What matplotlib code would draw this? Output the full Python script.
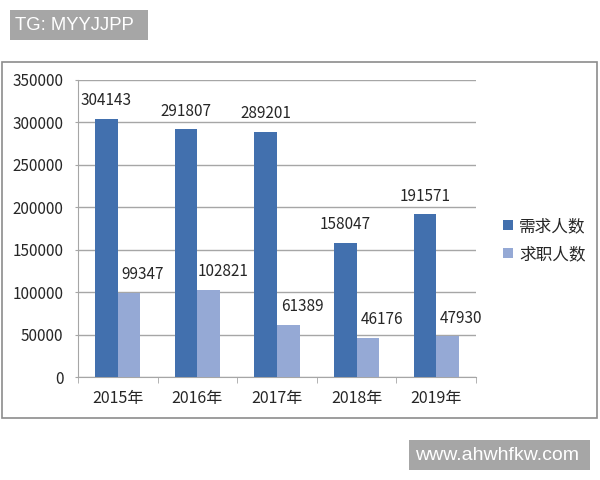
import matplotlib
matplotlib.use("Agg")
import matplotlib.pyplot as plt
from matplotlib.patches import Rectangle
import numpy as np

plt.rcParams['font.family'] = ['Noto Sans CJK SC', 'DejaVu Sans']

categories = ["2015年", "2016年", "2017年", "2018年", "2019年"]
demand = [304143, 291807, 289201, 158047, 191571]
seekers = [99347, 102821, 61389, 46176, 47930]
series_names = ["需求人数", "求职人数"]
yticks = [0, 50000, 100000, 150000, 200000, 250000, 300000, 350000]

c_dark = "#4270AE"
c_light = "#95A9D5"
grid_c = "#A6A6A6"
text_c = "#262626"

W, H = 600, 480
fig = plt.figure(figsize=(6, 4.8), dpi=100)
fig.patch.set_facecolor("white")


def px_rect(x0, y0, x1, y1, **kw):
    return Rectangle((x0 / W, 1 - y1 / H), (x1 - x0) / W, (y1 - y0) / H,
                     transform=fig.transFigure, **kw)


# outer chart frame
fig.patches.append(px_rect(2, 62, 597, 418, fill=False,
                           edgecolor="#8C8C8C", linewidth=1.2))

ax = fig.add_axes([78 / W, 1 - 377 / H, 398 / W, 297 / H])
x = np.arange(len(categories))
w = 0.285
ax.bar(x - w / 2, demand, w, color=c_dark, label=series_names[0], zorder=3)
ax.bar(x + w / 2, seekers, w, color=c_light, label=series_names[1], zorder=3)

for xi, v in zip(x, demand):
    ax.annotate(str(v), (xi - w / 2, v), xytext=(0, 7), textcoords="offset points",
                ha="center", va="bottom", fontsize=11, color=text_c)
for xi, v in zip(x, seekers):
    ax.annotate(str(v), (xi + w / 2, v), xytext=(10, 7), textcoords="offset points",
                ha="center", va="bottom", fontsize=11, color=text_c)

ax.set_xlim(-0.5, len(categories) - 0.5)
ax.set_ylim(0, 350000)
ax.set_yticks(yticks)
ax.set_yticklabels([str(t) for t in yticks], fontsize=11, color=text_c)
ax.yaxis.grid(True, color=grid_c, linewidth=1.0, zorder=0)
ax.set_axisbelow(True)
ax.tick_params(axis="y", length=2.5, color=grid_c, pad=8)

ax.set_xticks(x)
ax.set_xticklabels(categories, fontsize=11.5, color=text_c)
ax.tick_params(axis="x", length=0, pad=9)
ax.set_xticks(np.arange(-0.5, len(categories), 1.0), minor=True)
ax.tick_params(axis="x", which="minor", length=4, color=grid_c)

for s in ["top", "right"]:
    ax.spines[s].set_visible(False)
for s in ["left", "bottom"]:
    ax.spines[s].set_color(grid_c)

fig.legend(loc="upper left", bbox_to_anchor=(488 / W, 1 - 203 / H),
           frameon=False, fontsize=12, handlelength=0.6, handleheight=0.6,
           handletextpad=0.35, labelspacing=0.65, labelcolor=text_c)

# watermark boxes
fig.patches.append(px_rect(10, 10, 148, 40, facecolor="#A6A6A6", edgecolor="none"))
fig.text(15 / W, 1 - 25.5 / H, "TG: MYYJJPP", fontsize=13.3, color="white",
         va="center", ha="left", family="Liberation Sans")
fig.patches.append(px_rect(409, 440, 590, 470, facecolor="#A6A6A6", edgecolor="none"))
fig.text(415 / W, 1 - 456 / H, "www.ahwhfkw.com", fontsize=14, color="white",
         va="center", ha="left", family="Liberation Sans")

fig.savefig("out.png", dpi=100, facecolor="white")
